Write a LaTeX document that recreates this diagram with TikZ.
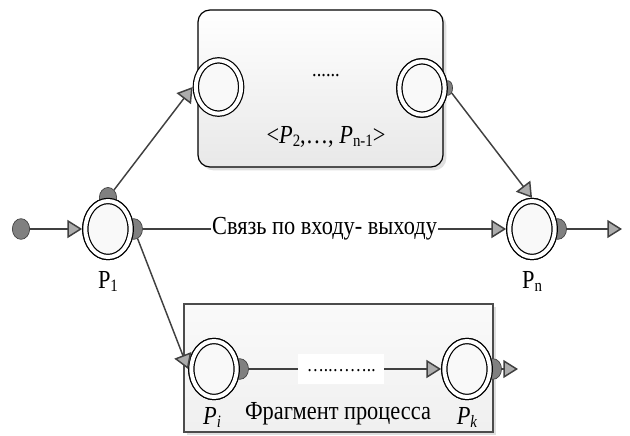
\documentclass[tikz,border=0pt]{standalone}
\usepackage{fontspec}
\setmainfont{Liberation Serif}[FakeStretch=0.86]
\usetikzlibrary{arrows.meta,shapes.geometric,shadows}
\newcommand{\sbs}[1]{\raisebox{-0.25ex}{\fontsize{13}{13}\selectfont #1}}
\begin{document}
\begin{tikzpicture}[x=0.75pt,y=-0.75pt,
  conn/.style={draw=black!75, line width=1.1pt, -{Triangle[length=11pt,width=13.5pt,fill=gray!65]}},
  proc/.style={ellipse, draw=black, line width=0.9pt, double=white, double distance=3pt, inner sep=0pt,
    minimum width=34pt, minimum height=42pt, outer sep=2.4pt, fill=gray!5},
  port/.style={ellipse, draw=black!75, line width=0.5pt, fill=black!50, inner sep=0pt,
    minimum width=13pt, minimum height=15.5pt},
  smallport/.style={port, minimum width=7pt, minimum height=11pt},
  txt/.style={font=\fontsize{19.5}{22}\selectfont, inner sep=0pt},
  bigbox/.style={draw=black, line width=0.9pt, top color=white, bottom color=gray!18,
    drop shadow={shadow xshift=2.5pt, shadow yshift=-2.5pt, opacity=0.25}},
  dotbox/.style={fill=white, inner sep=0pt, minimum width=64.5pt, minimum height=22.5pt}
]
\useasboundingbox (0,0) rectangle (630,435);

% boxes
\node[bigbox, rounded corners=9pt, minimum width=183.75pt, minimum height=117.75pt] (topbox) at (320.5,88.5) {};
\node[bigbox, draw=black!70, minimum width=231.75pt, minimum height=96pt, top color=gray!4, bottom color=gray!12] (botbox) at (338.5,368) {};

% process circles (first pass, for anchors)
\node[proc] (P1) at (108,229) {};
\node[proc] (Pn) at (532,229) {};
\node[proc, minimum height=40pt] (L2) at (218.5,87) {};
\node[proc, minimum height=40pt] (R2) at (422,88) {};
\node[proc] (Pi) at (214,369) {};
\node[proc] (Pk) at (467,369) {};

% ports
\node[port] (start) at (21,229) {};
\node[port] (p1t) at (P1.north) {};
\node[port] (p1r) at (P1.east) {};
\node[port] (pnr) at (Pn.east) {};
\node[port] (pir) at (Pi.east) {};
\node[port] (pkr) at (Pk.east) {};
\node[smallport] (r2r) at (R2.east) {};

% circles again, over the ports
\node[proc] at (P1) {};
\node[proc] at (Pn) {};
\node[proc, minimum height=40pt] at (R2) {};
\node[proc] at (Pi) {};
\node[proc] at (Pk) {};

\coordinate (endn) at (622,229);
\coordinate (endk) at (518,369);

% connectors
\draw[conn] (start) -- (P1);
\draw[conn] (p1t) -- (L2.west);
\draw[conn] (r2r) -- (Pn.north);
\draw[conn] (p1r) -- node[txt, fill=white, inner xsep=1pt] (link) {Связь по входу- выходу} (Pn);
\draw[conn] (p1r) -- (Pi.west);
\draw[conn] (pnr) -- (endn);
\draw[conn] (pir) -- node[dotbox, pos=0.48] (dots) {\raisebox{-0.8ex}{\fontsize{15}{15}\selectfont …..……..}} (Pk);
\draw[conn] (pkr) -- (endk);

% labels
\node[txt] (lp1) at (108,281) {P\sbs{1}};
\node[txt] (lpn) at (532,281) {P\sbs{n}};
\node[txt] (ldots) at (326,76) {\fontsize{16}{16}\selectfont ......};
\node[txt] (lseq) at (326,137) {<\textit{P}\sbs{2},…, \textit{P}\sbs{n-1}>};
\node[txt] (lpi) at (212,417) {\textit{P}\sbs{\textit{i}}};
\node[txt] (lpk) at (467,417) {\textit{P}\sbs{\textit{k}}};
\node[txt] (lfrag) at (338,414) {Фрагмент процесса};
\end{tikzpicture}
\end{document}
